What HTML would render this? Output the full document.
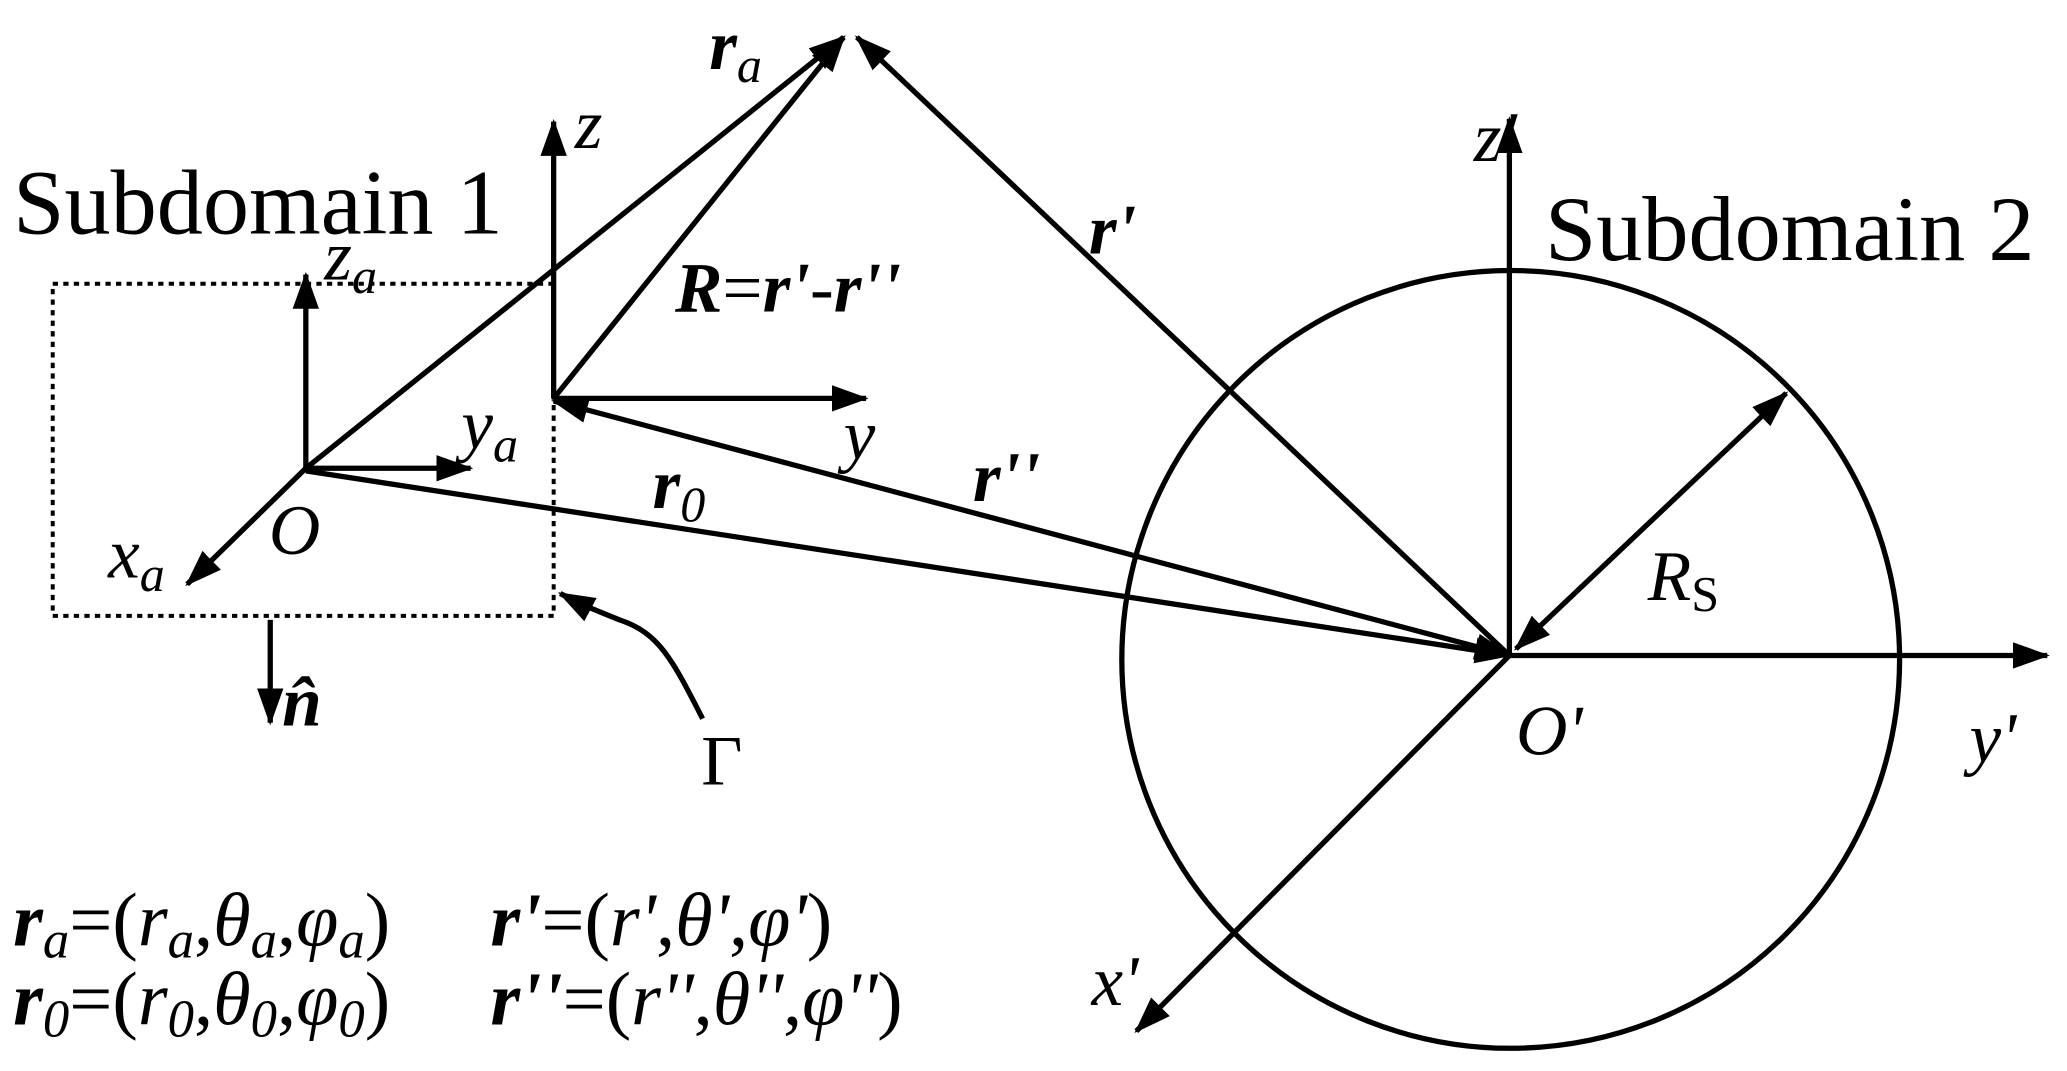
<!DOCTYPE html>
<html><head><meta charset="utf-8"><style>
html,body{margin:0;padding:0;background:#fff;width:2067px;height:1071px;overflow:hidden}
svg{display:block}
text{font-family:"Liberation Serif",serif;fill:#000}
.i{font-style:italic}
.b{font-weight:bold;font-style:italic}
</style></head><body>
<svg width="2067" height="1071" viewBox="0 0 1568 812" xmlns="http://www.w3.org/2000/svg">
<defs>
<marker id="h" viewBox="0 0 28 20" refX="26" refY="10" markerWidth="28" markerHeight="20" markerUnits="userSpaceOnUse" orient="auto-start-reverse">
<path d="M0,0 L28,10 L0,20 z" fill="#000"/>
</marker>
</defs>
<g stroke="#000" stroke-width="4" fill="none">
<rect x="40" y="215" width="380" height="252" stroke-dasharray="4,4" stroke-width="3"/>
<circle cx="1146" cy="500" r="295"/>
<line x1="232" y1="355" x2="232" y2="208" marker-end="url(#h)"/>
<line x1="232" y1="355" x2="357" y2="355" marker-end="url(#h)"/>
<line x1="232" y1="355" x2="142" y2="443" marker-end="url(#h)"/>
<line x1="232" y1="355" x2="640" y2="28" marker-end="url(#h)"/>
<line x1="420" y1="302" x2="420" y2="92" marker-end="url(#h)"/>
<line x1="420" y1="302" x2="657" y2="302" marker-end="url(#h)"/>
<line x1="420" y1="302" x2="640" y2="28" marker-end="url(#h)"/>
<line x1="1145" y1="497" x2="650" y2="28" marker-end="url(#h)"/>
<line x1="420" y1="304" x2="1145" y2="497" marker-start="url(#h)" marker-end="url(#h)"/>
<line x1="232" y1="357" x2="1145" y2="497" marker-end="url(#h)"/>
<line x1="1145" y1="497" x2="1145" y2="90" marker-end="url(#h)"/>
<line x1="1145" y1="497" x2="1553" y2="497" marker-end="url(#h)"/>
<line x1="1145" y1="497" x2="862" y2="782" marker-end="url(#h)"/>
<line x1="1150" y1="492" x2="1355" y2="298" marker-start="url(#h)" marker-end="url(#h)"/>
<line x1="205" y1="470" x2="205" y2="548" marker-end="url(#h)"/>
<path d="M533,545 C510,500 500,480 470,470 C450,462 440,458 425,450" marker-end="url(#h)"/>
</g>
<text x="10" y="177" font-size="70">Subdomain 1</text>
<text x="1172" y="197" font-size="70">Subdomain 2</text>
<text x="246" y="212" font-size="54" class="i">z<tspan font-size="38" dy="10">a</tspan></text>
<text x="350" y="340" font-size="54" class="i">y<tspan font-size="38" dy="10">a</tspan></text>
<text x="82" y="438" font-size="54" class="i">x<tspan font-size="38" dy="10">a</tspan></text>
<text x="204" y="420" font-size="54" class="i">O</text>
<text x="436" y="112" font-size="54" class="i">z</text>
<text x="640" y="348" font-size="54" class="i">y</text>
<text x="538" y="52" font-size="54" class="b">r<tspan font-size="38" dy="10" font-weight="normal">a</tspan></text>
<text x="512" y="236" font-size="54"><tspan class="b">R</tspan>=<tspan class="b">r'</tspan>-<tspan class="b">r''</tspan></text>
<text x="826" y="192" font-size="54" class="b">r'</text>
<text x="738" y="380" font-size="54" class="b">r''</text>
<text x="495" y="385" font-size="54" class="b">r<tspan font-size="38" dy="10" font-weight="normal">0</tspan></text>
<text x="1250" y="455" font-size="54" class="i">R<tspan font-size="38" dy="8" font-style="normal">S</tspan></text>
<text x="1118" y="122" font-size="54" class="i">z'</text>
<text x="1150" y="572" font-size="54" class="i">O'</text>
<text x="1494" y="578" font-size="54" class="i">y'</text>
<text x="828" y="762" font-size="54" class="i">x'</text>
<text x="214" y="550" font-size="54" class="b">n̂</text>
<text x="532" y="595" font-size="54">Γ</text>
<text x="10" y="717" font-size="58"><tspan class="b">r</tspan><tspan font-size="40" dy="9" class="i">a</tspan><tspan dy="-9">=(</tspan><tspan class="i">r</tspan><tspan font-size="40" dy="9" class="i">a</tspan><tspan dy="-9">,</tspan><tspan class="i">θ</tspan><tspan font-size="40" dy="9" class="i">a</tspan><tspan dy="-9">,</tspan><tspan class="i">φ</tspan><tspan font-size="40" dy="9" class="i">a</tspan><tspan dy="-9">)</tspan></text>
<text x="10" y="777" font-size="58"><tspan class="b">r</tspan><tspan font-size="40" dy="9" class="i">0</tspan><tspan dy="-9">=(</tspan><tspan class="i">r</tspan><tspan font-size="40" dy="9" class="i">0</tspan><tspan dy="-9">,</tspan><tspan class="i">θ</tspan><tspan font-size="40" dy="9" class="i">0</tspan><tspan dy="-9">,</tspan><tspan class="i">φ</tspan><tspan font-size="40" dy="9" class="i">0</tspan><tspan dy="-9">)</tspan></text>
<text x="372" y="717" font-size="58"><tspan class="b">r'</tspan>=(<tspan class="i">r'</tspan>,<tspan class="i">θ'</tspan>,<tspan class="i">φ'</tspan>)</text>
<text x="372" y="777" font-size="58"><tspan class="b">r''</tspan>=(<tspan class="i">r''</tspan>,<tspan class="i">θ''</tspan>,<tspan class="i">φ''</tspan>)</text>
</svg>
</body></html>
